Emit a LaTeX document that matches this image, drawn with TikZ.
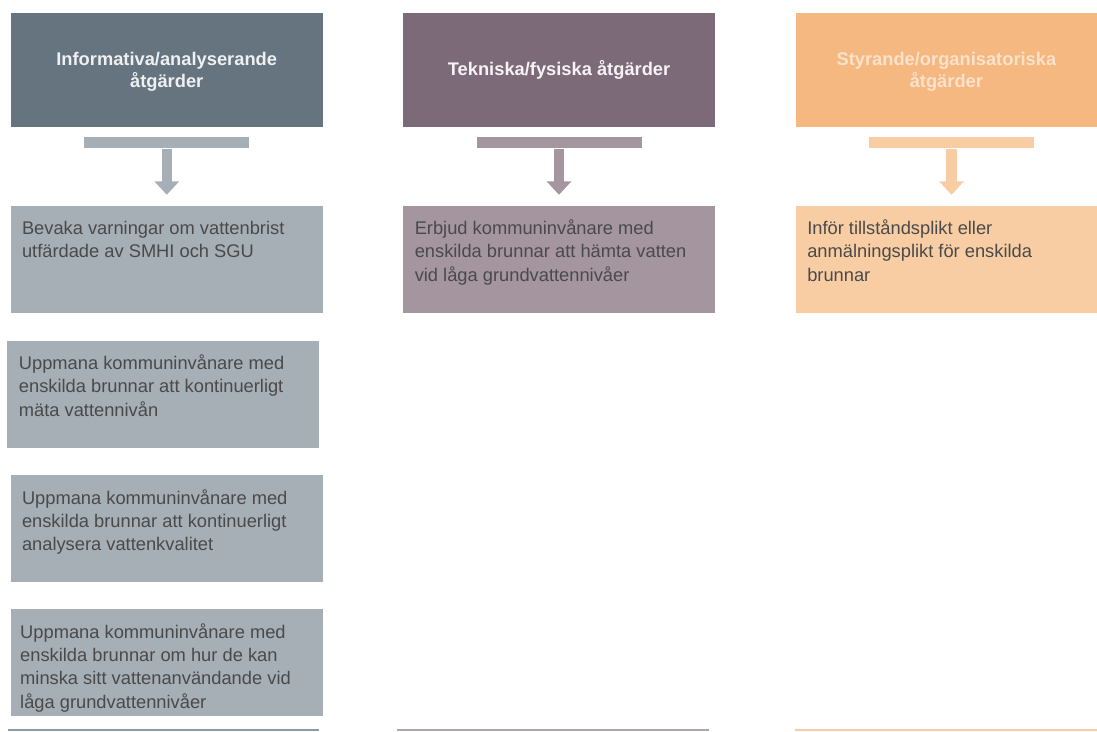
\documentclass[tikz,border=0pt]{standalone}
\usepackage{fontspec}
\setmainfont{Liberation Sans}
\usetikzlibrary{arrows.meta}

% column palettes
\definecolor{infoHead}{HTML}{66747F}
\definecolor{infoLight}{HTML}{A6AEB6}
\definecolor{infoLine}{HTML}{8F9BA4}
\definecolor{infoText}{HTML}{EEF0F2}
\definecolor{techHead}{HTML}{7C6A78}
\definecolor{techLight}{HTML}{A4959F}
\definecolor{techLine}{HTML}{B0A5AD}
\definecolor{techText}{HTML}{F6F2F5}
\definecolor{orgHead}{HTML}{F5B880}
\definecolor{orgLight}{HTML}{F8CDA3}
\definecolor{orgText}{HTML}{FBE2CC}
\definecolor{bodyText}{HTML}{4A4A4A}

\begin{document}
\begin{tikzpicture}[x=1pt, y=-1pt,
  head/.style={rectangle, inner sep=0pt, minimum height=114pt, align=center,
    font=\fontsize{18.3}{22}\selectfont\bfseries},
  headlabel/.style={inner sep=0pt, align=center,
    font=\fontsize{18.3}{22}\selectfont\bfseries},
  bar/.style={rectangle, inner sep=0pt, minimum width=165pt, minimum height=11pt},
  card/.style={rectangle, inner sep=0pt, minimum height=107pt},
  % the base anchor of a multi-line text sits on its last line
  cardtext/.style={anchor=base west, inner sep=0pt, align=left, text=bodyText,
    font=\fontsize{18.3}{23.2}\selectfont},
  flow/.style={line width=10.6pt, -{Triangle[width=24pt,length=13.5pt]}, shorten >=10.7pt}
]
\useasboundingbox (0,0) rectangle (1097,731);

% column headers
\node[head, fill=infoHead, minimum width=312pt] (h1) at (166.7,69.7) {};
\node[headlabel, text=infoText, anchor=base] (h1t) at ([yshift=-17.5pt]h1.center)
  {Informativa/analyserande\\åtgärder};
\node[head, fill=techHead, text=techText, minimum width=311.7pt] (h2) at (559.1,69.7)
  {Tekniska/fysiska åtgärder};
\node[head, fill=orgHead, minimum width=301.3pt] (h3) at (946.4,69.7) {};
\node[headlabel, text=orgText, anchor=base] (h3t) at ([yshift=-17.5pt]h3.center)
  {Styrande/organisatoriska\\åtgärder};

% bars under the headers
\node[bar, fill=infoLight] (b1) at (166.8,142.8) {};
\node[bar, fill=techLight] (b2) at (559,142.8) {};
\node[bar, fill=orgLight] (b3) at (951.5,142.8) {};

% measure cards
\node[card, fill=infoLight, minimum width=312pt] (c11) at (166.7,259.2) {};
\node[card, fill=infoLight, minimum width=312pt] (c12) at (163.4,394.2) {};
\node[card, fill=infoLight, minimum width=312pt] (c13) at (166.7,528.8) {};
\node[card, fill=infoLight, minimum width=312pt] (c14) at (166.7,662.9) {};
\node[card, fill=techLight, minimum width=311.7pt] (c21) at (559.1,259.2) {};
\node[card, fill=orgLight, minimum width=301.3pt] (c31) at (946.4,259.2) {};

% card texts: first baseline about 29pt below the card top, 23.2pt per extra line
\node[cardtext] (t11) at ([xshift=11.3pt, yshift=-52.4pt]c11.north west)
  {Bevaka varningar om vattenbrist\\utfärdade av SMHI och SGU};
\node[cardtext] (t12) at ([xshift=11.5pt, yshift=-75.6pt]c12.north west)
  {Uppmana kommuninvånare med\\enskilda brunnar att kontinuerligt\\mäta vattennivån};
\node[cardtext] (t13) at ([xshift=11.3pt, yshift=-75.6pt]c13.north west)
  {Uppmana kommuninvånare med\\enskilda brunnar att kontinuerligt\\analysera vattenkvalitet};
\node[cardtext] (t14) at ([xshift=9.5pt, yshift=-98.8pt]c14.north west)
  {Uppmana kommuninvånare med\\enskilda brunnar om hur de kan\\minska sitt vattenanvändande vid\\låga grundvattennivåer};
\node[cardtext] (t21) at ([xshift=11.5pt, yshift=-75.6pt]c21.north west)
  {Erbjud kommuninvånare med\\enskilda brunnar att hämta vatten\\vid låga grundvattennivåer};
\node[cardtext] (t31) at ([xshift=11.5pt, yshift=-75.6pt]c31.north west)
  {Inför tillståndsplikt eller\\anmälningsplikt för enskilda\\brunnar};

% arrows from the bars to the first cards
\draw[flow, infoLight] (b1.south) -- (b1.south |- c11.north);
\draw[flow, techLight] (b2.south) -- (b2.south |- c21.north);
\draw[flow, orgLight] (b3.south) -- (b3.south |- c31.north);

% rules along the bottom edge
\draw[infoLine, line width=2pt] (8.3,730) -- (319.3,730);
\draw[techLine, line width=2pt] (396.5,730) -- (709,730);
\draw[orgLight, line width=2pt] (795,730) -- (1097,730);
\end{tikzpicture}
\end{document}
